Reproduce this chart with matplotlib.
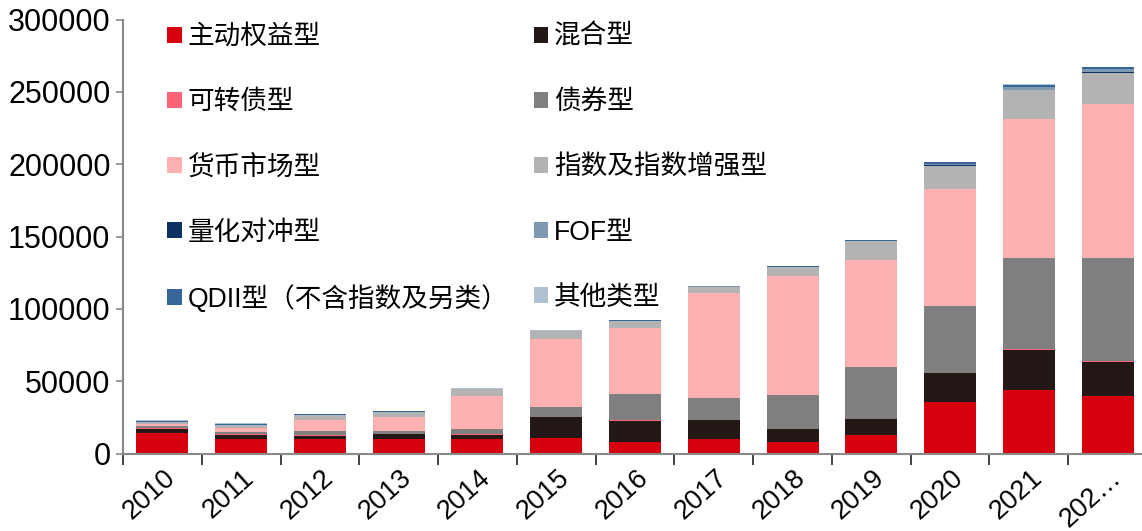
# Fund size by type, stacked bars
import matplotlib as mp
mp.use('Agg')
import matplotlib.pyplot as plt
import matplotlib.transforms as mtransforms
import numpy as np

plt.rcParams['font.family'] = ['Liberation Sans', 'Noto Sans CJK SC']

# Data
years = ['2010', '2011', '2012', '2013', '2014', '2015', '2016',
         '2017', '2018', '2019', '2020', '2021', '202…']

active_equity = [14300, 10400, 10400, 10400, 10000, 10600, 8300, 10000, 8100, 12900, 35500, 43800, 39700]
hybrid        = [3000, 2700, 2000, 3000, 3100, 14500, 14500, 13300, 8800, 10900, 20100, 27700, 23500]
convertible   = [200, 200, 200, 200, 200, 300, 200, 200, 200, 300, 400, 700, 600]
bond          = [1400, 1500, 3300, 2100, 3500, 7100, 18200, 15200, 23200, 35600, 45900, 63300, 71200]
money_market  = [1800, 3200, 7400, 9500, 23100, 46700, 45400, 72200, 82500, 74400, 81000, 95600, 106700]
index_fund    = [1400, 1800, 3400, 3400, 4600, 5300, 5100, 4500, 6400, 12700, 16100, 20000, 21600]
quant_hedge   = [0, 0, 0, 0, 0, 0, 0, 100, 0, 0, 300, 200, 300]
fof           = [0, 0, 0, 0, 0, 0, 0, 100, 100, 300, 1000, 2000, 2200]
qdii          = [600, 700, 500, 600, 500, 600, 500, 400, 400, 300, 1000, 1200, 1200]
other         = [600, 500, 200, 300, 200, 200, 200, 200, 200, 100, 300, 1000, 500]

series = [
    ('主动权益型', active_equity, '#D7000F'),
    ('混合型', hybrid, '#231815'),
    ('可转债型', convertible, '#FF6378'),
    ('债券型', bond, '#7F7F7F'),
    ('货币市场型', money_market, '#FFB1B2'),
    ('指数及指数增强型', index_fund, '#B3B3B3'),
    ('量化对冲型', quant_hedge, '#0B3263'),
    ('FOF型', fof, '#7F98B3'),
    ('QDII型（不含指数及另类）', qdii, '#346699'),
    ('其他类型', other, '#B1C1D4'),
]

fig = plt.figure(figsize=(11.42, 5.31), dpi=100)
ax = fig.add_axes([123 / 1142, 77.3 / 531, 1024 / 1142, 434.2 / 531])

x = np.arange(len(years))
bottom = np.zeros(len(years))
handles = {}
for name, vals, color in series:
    vals = np.array(vals, dtype=float)
    bars = ax.bar(x, vals, 0.66, bottom=bottom, color=color, label=name,
                  edgecolor='none')
    handles[name] = bars
    bottom += vals

ax.set_xlim(-0.5, len(years) - 0.5)
ax.set_ylim(0, 300000)
ax.set_yticks(np.arange(0, 300001, 50000))
ax.tick_params(axis='y', labelsize=22, length=5, width=1.2, color='#898989',
               direction='out', pad=4)

# boundary ticks + centred labels
ax.set_xticks(np.arange(-0.5, len(years), 1.0))
ax.set_xticklabels([])
ax.tick_params(axis='x', which='major', length=8, width=1.2, color='#222222')
ax.set_xticks(x, minor=True)
ax.set_xticklabels(years, minor=True, rotation=42, ha='right', va='top',
                   rotation_mode='anchor', fontsize=19.5)
ax.tick_params(axis='x', which='minor', length=0, pad=8)
offset = mtransforms.ScaledTranslation(1 / 100, 0, fig.dpi_scale_trans)
for lab in ax.get_xticklabels(minor=True):
    lab.set_transform(lab.get_transform() + offset)

for s in ['top', 'right']:
    ax.spines[s].set_visible(False)
for s in ['left', 'bottom']:
    ax.spines[s].set_color('#898989')
    ax.spines[s].set_linewidth(1.5)

# legend: two columns, row-wise order as in the reference
order = ['主动权益型', '可转债型', '货币市场型', '量化对冲型', 'QDII型（不含指数及另类）',
         '混合型', '债券型', '指数及指数增强型', 'FOF型', '其他类型']
leg = ax.legend([handles[n] for n in order], order, ncol=2, frameon=False,
                fontsize=19.2, handlelength=0.55, handleheight=0.55,
                handletextpad=0.22, labelspacing=1.47, columnspacing=0.95,
                loc='upper left', bbox_to_anchor=(167 / 1142, 1 - 24 / 531),
                bbox_transform=fig.transFigure, borderaxespad=0, borderpad=0)

fig.savefig('out.png', dpi=100)
